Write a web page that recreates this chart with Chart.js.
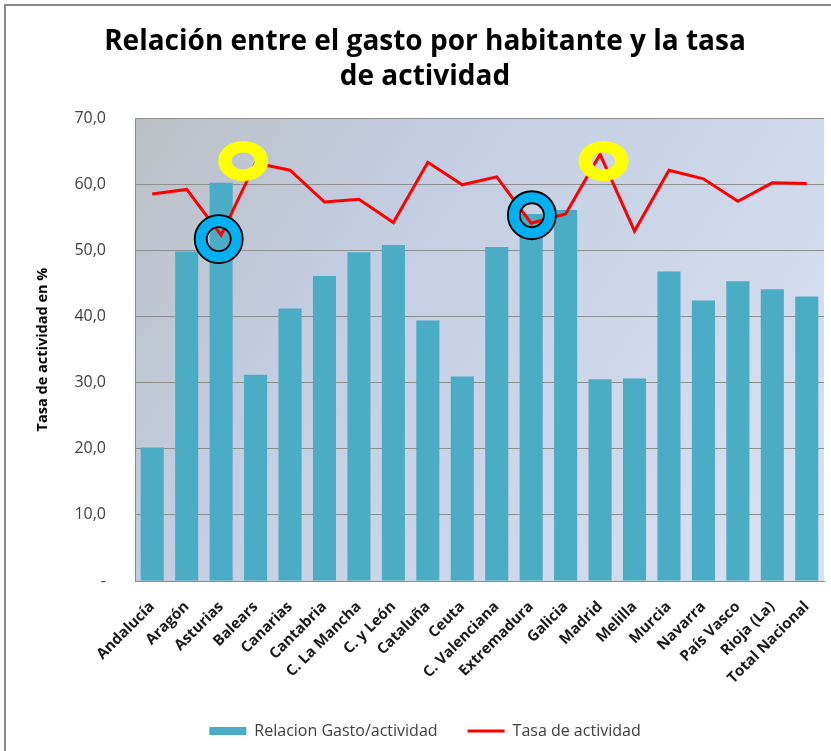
<!DOCTYPE html>
<html>
<head>
<meta charset="utf-8">
<script src="https://cdn.jsdelivr.net/npm/chart.js@4/dist/chart.umd.min.js"></script>
<style>
  html, body { margin: 0; padding: 0; background: #ffffff; }
  #wrap { position: relative; width: 831px; height: 751px; }
</style>
</head>
<body>
<div id="wrap"><canvas id="c" width="831" height="751"></canvas></div>
<script>
// ---- data ----
const categories = ['Andalucía', 'Aragón', 'Asturias', 'Balears', 'Canarias', 'Cantabria',
  'C. La Mancha', 'C. y León', 'Cataluña', 'Ceuta', 'C. Valenciana', 'Extremadura',
  'Galicia', 'Madrid', 'Melilla', 'Murcia', 'Navarra', 'País Vasco', 'Rioja (La)', 'Total Nacional'];
const gastoActividad = [20.2, 49.8, 60.2, 31.2, 41.2, 46.1, 49.7, 50.8, 39.4, 30.9,
  50.5, 55.5, 56.1, 30.5, 30.6, 46.8, 42.4, 45.3, 44.1, 43.0];
const tasaActividad = [58.5, 59.2, 52.3, 63.2, 62.1, 57.3, 57.7, 54.2, 63.3, 59.9,
  61.1, 54.1, 55.5, 64.5, 52.9, 62.1, 60.8, 57.4, 60.2, 60.1];
const yTickLabels = ['-', '10,0', '20,0', '30,0', '40,0', '50,0', '60,0', '70,0'];
const seriesNames = ['Relacion Gasto/actividad', 'Tasa de actividad'];
const titleLines = ['Relación entre el gasto por habitante y la tasa', 'de actividad'];
const yAxisTitle = 'Tasa de actividad en %';
// highlight rings drawn over the chart (category index, value)
const ringKind = ['yellow', 'blue', 'blue', 'yellow'];
const ringCat = [2.64, 1.93, 11.02, 13.1];
const ringVal = [63.5, 51.7, 55.3, 63.5];

const FONT = "'Open Sans', 'DejaVu Sans', sans-serif";

const backgroundPlugin = {
  id: 'bgPlugin',
  beforeDraw(chart) {
    const ctx = chart.ctx;
    const a = chart.chartArea;
    ctx.save();
    ctx.fillStyle = '#ffffff';
    ctx.fillRect(0, 0, chart.width, chart.height);
    // outer frame (left + top)
    ctx.strokeStyle = '#8c8c8c';
    ctx.lineWidth = 2;
    ctx.beginPath();
    ctx.moveTo(5, chart.height);
    ctx.lineTo(5, 5);
    ctx.lineTo(chart.width, 5);
    ctx.stroke();
    // plot area gradient
    const g = ctx.createLinearGradient(a.left, a.top, a.right, a.bottom);
    g.addColorStop(0, '#bcbfc4');
    g.addColorStop(0.3, '#c3cde1');
    g.addColorStop(1, '#d8e2f3');
    ctx.fillStyle = g;
    ctx.fillRect(a.left, a.top, a.right - a.left, a.bottom - a.top);
    ctx.restore();
  }
};

const ringPlugin = {
  id: 'ringPlugin',
  afterDatasetsDraw(chart) {
    const ctx = chart.ctx;
    const xs = chart.scales.x, ys = chart.scales.y;
    ctx.save();
    for (let i = 0; i < ringKind.length; i++) {
      const cx = xs.getPixelForValue(ringCat[i]);
      const cy = ys.getPixelForValue(ringVal[i]);
      ctx.beginPath();
      if (ringKind[i] === 'yellow') {
        ctx.ellipse(cx, cy, 25, 20, 0, 0, Math.PI * 2);
        ctx.moveTo(cx + 11.5, cy);
        ctx.ellipse(cx, cy, 11.5, 8.5, 0, 0, Math.PI * 2);
        ctx.fillStyle = '#ffff00';
        ctx.fill('evenodd');
      } else {
        ctx.arc(cx, cy, 24, 0, Math.PI * 2);
        ctx.moveTo(cx + 12, cy);
        ctx.arc(cx, cy, 12, 0, Math.PI * 2);
        ctx.fillStyle = '#00b0f0';
        ctx.fill('evenodd');
        ctx.strokeStyle = '#000000';
        ctx.lineWidth = 1.8;
        ctx.stroke();
      }
    }
    ctx.restore();
  }
};

new Chart(document.getElementById('c'), {
  data: {
    labels: categories,
    datasets: [
      {
        type: 'bar',
        label: seriesNames[0],
        data: gastoActividad,
        backgroundColor: '#4bacc6',
        borderWidth: 0,
        categoryPercentage: 1.0,
        barPercentage: 0.67,
        order: 2
      },
      {
        type: 'line',
        label: seriesNames[1],
        data: tasaActividad,
        borderColor: '#ff0000',
        backgroundColor: '#ff0000',
        borderWidth: 3,
        pointRadius: 0,
        tension: 0,
        fill: false,
        order: 1
      }
    ]
  },
  options: {
    responsive: false,
    animation: false,
    devicePixelRatio: 1,
    layout: { padding: { left: 26, right: 7, top: 0, bottom: 2 } },
    plugins: {
      title: {
        display: true,
        text: titleLines,
        color: '#000000',
        font: { family: FONT, size: 28, weight: 'bold', lineHeight: 1.25 },
        padding: { top: 25, bottom: 23 }
      },
      legend: {
        display: true,
        position: 'bottom',
        labels: {
          usePointStyle: true,
          pointStyleWidth: 37,
          boxHeight: 8,
          padding: 30,
          color: '#404040',
          font: { family: FONT, size: 16 },
          generateLabels(chart) {
            return chart.data.datasets.map((ds, i) => ({
              text: ds.label,
              fillStyle: ds.backgroundColor,
              strokeStyle: i === 0 ? ds.backgroundColor : ds.borderColor,
              lineWidth: i === 0 ? 0 : 3,
              pointStyle: i === 0 ? 'rect' : 'line',
              hidden: false,
              datasetIndex: i,
              fontColor: '#404040'
            }));
          }
        }
      },
      tooltip: { enabled: false }
    },
    scales: {
      x: {
        type: 'category',
        offset: true,
        grid: { display: false },
        border: { display: true, color: '#8c8c8c', width: 1 },
        ticks: {
          maxRotation: 45,
          minRotation: 45,
          autoSkip: false,
          padding: 9,
          color: '#1a1a1a',
          font: { family: FONT, size: 15, weight: 'bold' }
        },
        afterFit(scale) { scale.height = 112; }
      },
      y: {
        type: 'linear',
        min: 0,
        max: 70,
        ticks: {
          stepSize: 10,
          padding: 29,
          color: '#404040',
          font: { family: FONT, size: 16 },
          callback: (v, idx) => yTickLabels[idx]
        },
        grid: { color: '#8e8e8e', lineWidth: 1, drawTicks: false },
        border: { display: true, color: '#8c8c8c', width: 1 },
        title: {
          display: true,
          text: yAxisTitle,
          color: '#000000',
          font: { family: FONT, size: 14.5, weight: 'bold' },
          padding: { top: 8, bottom: 4 }
        },
        afterFit(scale) { scale.width = 109; }
      }
    }
  },
  plugins: [backgroundPlugin, ringPlugin]
});
</script>
</body>
</html>
